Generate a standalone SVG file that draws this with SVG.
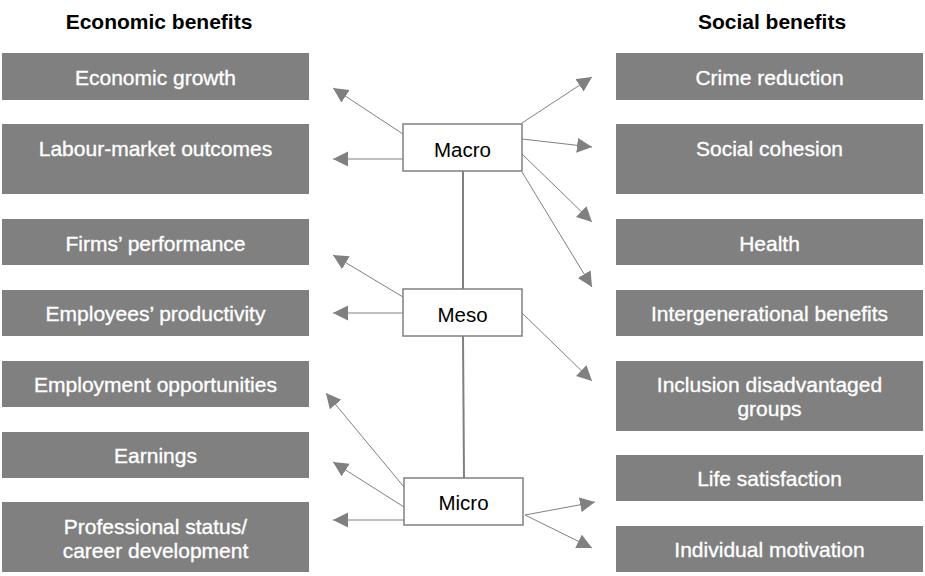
<svg xmlns="http://www.w3.org/2000/svg" width="925" height="576" viewBox="0 0 925 576">
<style>
.title{font-family:"Liberation Sans",Arial,sans-serif;font-size:21px;font-weight:bold;fill:#000;text-anchor:middle}
.box{fill:#808080}
.bt{font-family:"Liberation Sans",Arial,sans-serif;font-size:21px;fill:#fff;stroke:#fff;stroke-width:0.35;text-anchor:middle}
.node{fill:#fff;stroke:#808080;stroke-width:1.5}
.nt{font-family:"Liberation Sans",Arial,sans-serif;font-size:20.5px;fill:#000;text-anchor:middle}
.arr{stroke:#808080;stroke-width:1;fill:none;marker-end:url(#ah)}
.vl{stroke:#808080;stroke-width:2;fill:none}
</style>
<defs>
<marker id="ah" markerUnits="userSpaceOnUse" markerWidth="16" markerHeight="16" refX="15" refY="7.5" orient="auto">
<path d="M0,0 L15,7.5 L0,15 z" fill="#808080"/>
</marker>
</defs>
<rect width="925" height="576" fill="#fff"/>
<text class="title" x="159" y="29">Economic benefits</text>
<text class="title" x="772" y="29">Social benefits</text>

<g id="economic-growth"><rect class="box" x="2" y="53" width="307" height="47"/><text class="bt" x="155.5" y="85">Economic growth</text></g>
<g id="labour-market"><rect class="box" x="2" y="124" width="307" height="70"/><text class="bt" x="155.5" y="156">Labour-market outcomes</text></g>
<g id="firms-performance"><rect class="box" x="2" y="219" width="307" height="46"/><text class="bt" x="155.5" y="251">Firms’ performance</text></g>
<g id="employees-productivity"><rect class="box" x="2" y="290" width="307" height="46"/><text class="bt" x="155.5" y="321">Employees’ productivity</text></g>
<g id="employment-opportunities"><rect class="box" x="2" y="361" width="307" height="46"/><text class="bt" x="155.5" y="392">Employment opportunities</text></g>
<g id="earnings"><rect class="box" x="2" y="432" width="307" height="46"/><text class="bt" x="155.5" y="463">Earnings</text></g>
<g id="professional-status"><rect class="box" x="2" y="502" width="307" height="70"/><text class="bt" x="155.5" y="534">Professional status/</text><text class="bt" x="155.5" y="558">career development</text></g>

<g id="crime-reduction"><rect class="box" x="616" y="53" width="307" height="47"/><text class="bt" x="769.5" y="85">Crime reduction</text></g>
<g id="social-cohesion"><rect class="box" x="616" y="124" width="307" height="70"/><text class="bt" x="769.5" y="156">Social cohesion</text></g>
<g id="health"><rect class="box" x="616" y="219" width="307" height="46"/><text class="bt" x="769.5" y="251">Health</text></g>
<g id="intergenerational"><rect class="box" x="616" y="290" width="307" height="46"/><text class="bt" x="769.5" y="321">Intergenerational benefits</text></g>
<g id="inclusion"><rect class="box" x="616" y="361" width="307" height="70"/><text class="bt" x="769.5" y="392">Inclusion disadvantaged</text><text class="bt" x="769.5" y="416">groups</text></g>
<g id="life-satisfaction"><rect class="box" x="616" y="455" width="307" height="46"/><text class="bt" x="769.5" y="486">Life satisfaction</text></g>
<g id="individual-motivation"><rect class="box" x="616" y="526" width="307" height="46"/><text class="bt" x="769.5" y="557">Individual motivation</text></g>

<g id="connectors">
<line class="vl" x1="463" y1="171" x2="463" y2="289"/>
<line class="vl" x1="463" y1="336" x2="464" y2="478"/>
<line class="arr" x1="403" y1="134" x2="333" y2="88"/>
<line class="arr" x1="403" y1="159" x2="333" y2="159"/>
<line class="arr" x1="522" y1="123" x2="592" y2="77"/>
<line class="arr" x1="522" y1="139" x2="592" y2="147"/>
<line class="arr" x1="522" y1="154" x2="592" y2="222"/>
<line class="arr" x1="522" y1="172" x2="592" y2="287"/>
<line class="arr" x1="403" y1="297" x2="333" y2="255"/>
<line class="arr" x1="403" y1="313" x2="333" y2="313"/>
<line class="arr" x1="522" y1="313" x2="592" y2="381"/>
<line class="arr" x1="404" y1="487" x2="326" y2="393"/>
<line class="arr" x1="404" y1="507" x2="333" y2="462"/>
<line class="arr" x1="404" y1="520" x2="333" y2="520"/>
<line class="arr" x1="525" y1="515" x2="595" y2="502"/>
<line class="arr" x1="525" y1="515" x2="592" y2="548"/>
</g>

<g id="macro"><rect class="node" x="403" y="124" width="119" height="47"/><text class="nt" x="462.5" y="157">Macro</text></g>
<g id="meso"><rect class="node" x="403" y="289" width="119" height="47"/><text class="nt" x="462.5" y="322">Meso</text></g>
<g id="micro"><rect class="node" x="404" y="478" width="119" height="47"/><text class="nt" x="463.5" y="510">Micro</text></g>
</svg>
